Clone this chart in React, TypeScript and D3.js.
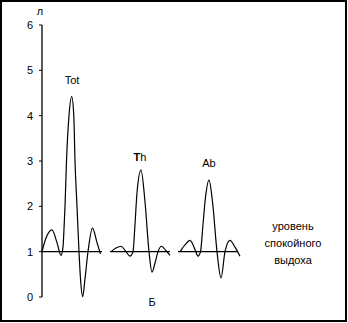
import React from 'react'
import * as d3 from 'd3'

// x in px-like time units from the y axis, y in litres
const totX = [0, 4, 10, 15, 19, 21, 22, 23, 24.5, 27, 29.7, 31.8, 33, 35, 37, 38.5, 40.7, 43, 46, 50.5, 55, 58.5]
const totY = [1, 1.3, 1.48, 1.2, 0.92, 1.1, 1.5, 2, 3, 4, 4.42, 4, 3, 2, 1, 0.4, 0.01, 0.4, 1, 1.52, 1.2, 0.95]

const thX = [69, 74, 79, 84, 88, 91, 93, 95, 99, 103, 107, 110, 113, 116, 119.5, 124, 128]
const thY = [1, 1.08, 1.12, 1.0, 0.9, 1.0, 1.6, 2.3, 2.8, 2.1, 1, 0.55, 0.75, 1, 1.12, 1.02, 0.92]

const abX = [138, 143, 148, 153, 156, 158.5, 161, 163.5, 167, 170.5, 175, 179, 183, 188, 193, 198]
const abY = [1, 1.15, 1.25, 1.05, 0.9, 1.0, 1.6, 2.2, 2.58, 2.1, 1, 0.42, 1, 1.25, 1.1, 0.9]

const baselines = [
    [0, 60],
    [68, 128],
    [136, 196]
]

const yTicks = [0, 1, 2, 3, 4, 5, 6]
const rightLabel = ['уровень', 'спокойного', 'выдоха']

const font = 'Arial, "Liberation Sans", sans-serif'

const App: React.FC = () => {
    const x = d3.scaleLinear().domain([0, 300]).range([42, 342])
    const y = d3.scaleLinear().domain([0, 6]).range([297, 25])

    const line = d3
        .line<[number, number]>()
        .curve(d3.curveMonotoneX)
        .x((d) => x(d[0]))
        .y((d) => y(d[1]))

    const series = [
        { xs: totX, ys: totY },
        { xs: thX, ys: thY },
        { xs: abX, ys: abY }
    ]

    return (
        <div style={{ position: 'absolute', left: 0, top: 0 }}>
            <svg width={348} height={323} style={{ display: 'block' }}>
                <rect x={1} y={1} width={345} height={320} fill='white' stroke='black' strokeWidth={2} />
                {/* y axis */}
                <line x1={x(0)} x2={x(0)} y1={y(6)} y2={y(0)} stroke='black' strokeWidth={1.3} />
                {yTicks.map((t) => (
                    <g key={t}>
                        <line x1={x(0) - 3} x2={x(0)} y1={y(t)} y2={y(t)} stroke='black' />
                        <text
                            x={33}
                            y={y(t) + 4}
                            textAnchor='end'
                            fontFamily={font}
                            fontSize={11}
                        >
                            {t}
                        </text>
                    </g>
                ))}
                <text x={40} y={15} textAnchor='middle' fontFamily={font} fontSize={11}>
                    л
                </text>
                {/* baselines */}
                {baselines.map((b, i) => (
                    <line key={i} x1={x(b[0])} x2={x(b[1])} y1={y(1)} y2={y(1)} stroke='black' strokeWidth={1.2} />
                ))}
                {series.map((s, i) => (
                    <path
                        key={i}
                        d={line(s.xs.map((v, j) => [v, s.ys[j]] as [number, number])) ?? ''}
                        fill='none'
                        stroke='black'
                        strokeWidth={1.2}
                    />
                ))}
                <text x={x(30)} y={84} textAnchor='middle' fontFamily={font} fontSize={11}>
                    Tot
                </text>
                <text x={x(98)} y={161} textAnchor='middle' fontFamily={font} fontSize={11}>
                    <tspan fontWeight='bold'>T</tspan>h
                </text>
                <text x={x(167)} y={167} textAnchor='middle' fontFamily={font} fontSize={11}>
                    Ab
                </text>
                {rightLabel.map((t, i) => (
                    <text key={t} x={293} y={230 + i * 17} textAnchor='middle' fontFamily={font} fontSize={11}>
                        {t}
                    </text>
                ))}
                <text x={152} y={306} textAnchor='middle' fontFamily={font} fontSize={11}>
                    Б
                </text>
            </svg>
        </div>
    )
}

export default App
